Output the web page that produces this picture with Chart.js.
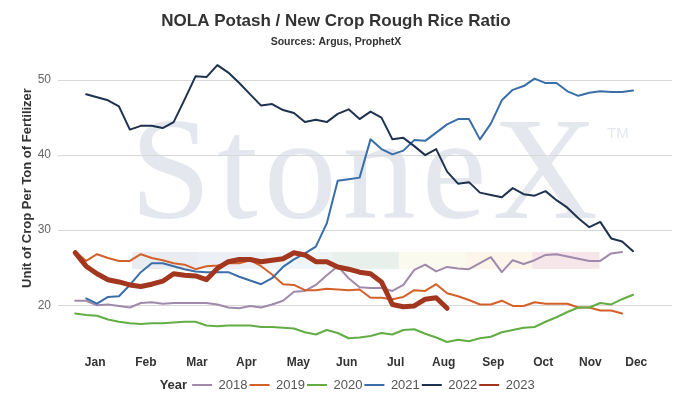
<!DOCTYPE html>
<html>
<head>
<meta charset="utf-8">
<script src="https://cdn.jsdelivr.net/npm/chart.js@4.4.0/dist/chart.umd.min.js"></script>
<style>
  html, body { margin: 0; padding: 0; background: #fff; }
  #wrap { width: 681px; height: 412px; }
</style>
</head>
<body>
<div id="wrap"><canvas id="ratio-chart" width="681" height="412"></canvas></div>
<script>
// weekly points, week 1..52
const weeks = Array.from({ length: 52 }, (_, i) => i + 1);

// month label positions (in weeks) and names
const monthWeeks = [2.83, 7.46, 12.13, 16.65, 21.4, 25.82, 30.29, 34.69, 39.23, 43.78, 48.1, 52.29];
const monthLabels = ['Jan', 'Feb', 'Mar', 'Apr', 'May', 'Jun', 'Jul', 'Aug', 'Sep', 'Oct', 'Nov', 'Dec'];

const yTicks = [20, 30, 40, 50];

const years = ['2018', '2019', '2020', '2021', '2022', '2023'];

const y2018 = [20.6, 20.6, 20.0, 20.1, 19.9, 19.7, 20.3, 20.4, 20.2, 20.3,
  20.3, 20.3, 20.3, 20.1, 19.7, 19.6, 19.9, 19.7, 20.1, 20.6,
  21.8, 21.9, 22.7, 24.0, 25.2, 23.6, 22.4, 22.3, 22.3, 21.9,
  22.7, 24.7, 25.4, 24.5, 25.1, 24.9, 24.8, 25.6, 26.4, 24.4,
  26.0, 25.5, 26.0, 26.7, 26.8, 26.5, 26.2, 25.9, 25.9, 26.9, 27.1, null];

const y2019 = [27.2, 25.9, 26.8, 26.3, 25.9, 25.9, 26.8, 26.3, 26.0, 25.6,
  25.4, 24.8, 25.2, 25.3, 25.6, 25.6, 26.0, 25.2, 24.1, 22.8,
  22.7, 22.0, 22.0, 22.2, 22.1, 22.0, 22.1, 21.0, 21.0, 20.8,
  21.1, 22.0, 21.9, 22.8, 21.6, 21.2, 20.7, 20.1, 20.1, 20.6,
  19.9, 19.9, 20.4, 20.2, 20.2, 20.2, 19.7, 19.7, 19.3, 19.3, 18.9, null];

const y2020 = [18.9, 18.7, 18.6, 18.1, 17.8, 17.6, 17.5, 17.6, 17.6, 17.7,
  17.8, 17.8, 17.3, 17.2, 17.3, 17.3, 17.3, 17.1, 17.1, 17.0,
  16.9, 16.4, 16.1, 16.7, 16.3, 15.6, 15.7, 15.9, 16.3, 16.1,
  16.7, 16.8, 16.2, 15.7, 15.1, 15.4, 15.2, 15.6, 15.8, 16.4,
  16.7, 17.0, 17.1, 17.8, 18.4, 19.1, 19.7, 19.7, 20.3, 20.1, 20.8, 21.4];

const y2021 = [null, 20.9, 20.2, 21.1, 21.2, 22.7, 24.4, 25.6, 25.6, 25.2,
  24.8, 24.5, 24.4, 24.4, 24.4, 23.8, 23.3, 22.8, 23.6, 25.1,
  26.1, 26.9, 27.8, 30.9, 36.6, 36.8, 37.0, 42.1, 40.8, 40.1,
  40.6, 42.0, 41.9, 43.0, 44.1, 44.8, 44.8, 42.1, 44.2, 47.3,
  48.7, 49.2, 50.2, 49.6, 49.6, 48.5, 47.9, 48.3, 48.5, 48.4, 48.4, 48.6];

const y2022 = [null, 48.1, 47.7, 47.3, 46.5, 43.4, 43.9, 43.9, 43.6, 44.4,
  47.4, 50.5, 50.4, 52.0, 51.0, 49.6, 48.1, 46.6, 46.8, 46.0,
  45.6, 44.4, 44.7, 44.4, 45.5, 46.1, 44.8, 45.8, 45.0, 42.1,
  42.3, 41.2, 40.0, 40.8, 37.8, 36.2, 36.4, 35.0, 34.7, 34.4,
  35.6, 34.8, 34.6, 35.2, 34.0, 33.0, 31.6, 30.4, 31.1, 28.9, 28.5, 27.2];

const y2023 = [27.0, 25.2, 24.2, 23.4, 23.1, 22.7, 22.5, 22.8, 23.2, 24.2,
  24.0, 23.9, 23.4, 24.9, 25.8, 26.1, 26.1, 25.8, 26.0, 26.2,
  27.0, 26.7, 25.8, 25.8, 25.1, 24.8, 24.4, 24.2, 23.1, 20.1,
  19.8, 19.9, 20.8, 21.0, 19.6];

const series = [y2018, y2019, y2020, y2021, y2022, y2023];
const colors = ['#a08aab', '#d4602a', '#62ad44', '#3a6ea8', '#1e3250', '#a3361f'];
const widths = [2, 2, 2, 2, 2, 5];

const yTitle = 'Unit of Crop Per Ton of Fertilizer';

Chart.defaults.font.family = '"Liberation Sans", Arial, sans-serif';

// StoneX watermark behind the lines
const watermark = {
  id: 'watermark',
  beforeDraw(chart) {
    const ctx = chart.ctx;
    ctx.save();
    ctx.fillStyle = '#fff';
    ctx.fillRect(0, 0, chart.width, chart.height);
    const bands = ['#e9ecf1', '#ecf0f6', '#eff4f9', '#e7f0ea', '#fafbee', '#fdf5ea', '#f6e6ea'];
    const bw = (599 - 132) / bands.length;
    bands.forEach((c, i) => {
      ctx.fillStyle = c;
      ctx.fillRect(132 + i * bw, 252, bw + 0.5, 17);
    });
    ctx.fillStyle = '#e4e8ee';
    ctx.font = '146px "Liberation Serif", "Times New Roman", serif';
    ctx.textBaseline = 'alphabetic';
    ctx.textAlign = 'left';
    ctx.letterSpacing = '6px';
    ctx.fillText('StoneX', 130, 218);
    ctx.letterSpacing = '0px';
    ctx.font = '15px "Liberation Sans", Arial, sans-serif';
    ctx.fillText('TM', 607, 138);
    ctx.restore();
  }
};

// y axis title and bold "Year" in front of the legend items
const extraText = {
  id: 'extraText',
  afterDraw(chart) {
    const ctx = chart.ctx;
    ctx.save();
    ctx.fillStyle = '#333';
    ctx.textAlign = 'center';
    ctx.textBaseline = 'middle';
    ctx.font = 'bold 13px "Liberation Sans", Arial, sans-serif';
    ctx.translate(27, 188);
    ctx.rotate(-Math.PI / 2);
    ctx.fillText(yTitle, 0, 0);
    ctx.restore();

    const boxes = chart.legend && chart.legend.legendHitBoxes;
    if (!boxes || boxes.length < 2) return;
    const b = boxes[1];
    ctx.save();
    ctx.font = 'bold 13px "Liberation Sans", Arial, sans-serif';
    ctx.fillStyle = '#333';
    ctx.textAlign = 'right';
    ctx.textBaseline = 'middle';
    ctx.fillText('Year', b.left - 5, b.top + b.height / 2);
    ctx.restore();
  }
};

new Chart(document.getElementById('ratio-chart'), {
  type: 'line',
  data: {
    labels: weeks,
    datasets: years.map((yr, i) => ({
      label: yr,
      data: series[i],
      borderColor: colors[i],
      backgroundColor: colors[i],
      borderWidth: widths[i],
      pointRadius: 0,
      tension: 0,
      fill: false,
      borderJoinStyle: 'round',
      borderCapStyle: 'round',
      spanGaps: false,
      order: years.length - i
    }))
  },
  options: {
    responsive: false,
    animation: false,
    layout: { padding: { left: 0, right: 9, top: 0, bottom: 10.5 } },
    plugins: {
      title: {
        display: true,
        text: 'NOLA Potash / New Crop Rough Rice Ratio',
        color: '#333',
        font: { size: 17, weight: 'bold' },
        padding: { top: 11.4, bottom: 2 }
      },
      subtitle: {
        display: true,
        text: 'Sources: Argus, ProphetX',
        color: '#333',
        font: { size: 10.5, weight: 'bold' },
        padding: { top: 2, bottom: 8.4 }
      },
      legend: {
        position: 'bottom',
        labels: {
          boxWidth: 20,
          boxHeight: 2,
          padding: 2,
          color: '#555',
          font: { size: 13 },
          generateLabels: chart => [{
            text: 'Year',
            fillStyle: 'rgba(0,0,0,0)',
            strokeStyle: 'rgba(0,0,0,0)',
            fontColor: 'rgba(0,0,0,0)',
            lineWidth: 0,
            hidden: false,
            datasetIndex: -1
          }].concat(chart.data.datasets.map((d, i) => ({
            text: d.label,
            fillStyle: d.borderColor,
            strokeStyle: d.borderColor,
            fontColor: '#555',
            lineWidth: 0,
            hidden: false,
            datasetIndex: i
          })))
        }
      },
      tooltip: { enabled: false }
    },
    scales: {
      x: {
        type: 'linear',
        min: -0.57,
        max: 55.56,
        grid: { display: false, drawTicks: false },
        border: { display: false },
        afterBuildTicks: axis => { axis.ticks = monthWeeks.map(v => ({ value: v })); },
        afterFit: axis => { axis.height = 31.5; },
        ticks: {
          autoSkip: false,
          maxRotation: 0,
          padding: 10,
          color: '#333',
          font: { size: 12, weight: 'bold' },
          callback: (v, i) => monthLabels[i]
        }
      },
      y: {
        min: 14.7,
        max: 53.1,
        grid: { color: '#d8d8d8', drawTicks: false },
        border: { display: false },
        afterBuildTicks: axis => { axis.ticks = yTicks.map(v => ({ value: v })); },
        afterFit: axis => { axis.width = 58; },
        ticks: {
          padding: 7,
          color: '#666',
          font: { size: 12 }
        }
      }
    }
  },
  plugins: [watermark, extraText]
});
</script>
</body>
</html>
